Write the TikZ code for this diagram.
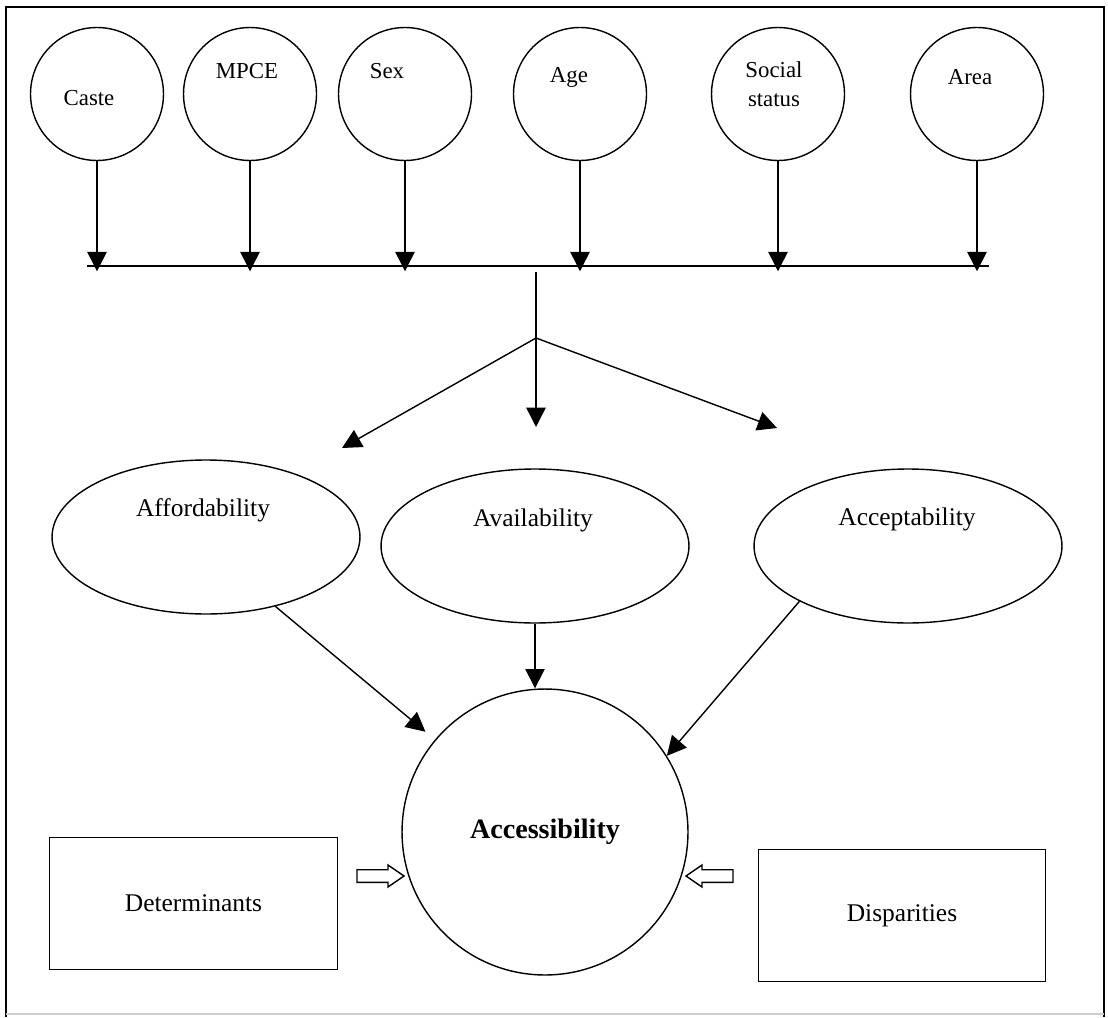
\documentclass[tikz,border=0pt]{standalone}
\usepackage{fontspec}
\setmainfont{Liberation Serif}
\usetikzlibrary{arrows.meta,shapes.geometric,positioning}

\tikzset{
  hollowarrow/.pic={
    \draw (-23.5,-6.3) -- (7.5,-6.3) -- (7.5,-11) -- (23.5,0) -- (7.5,11)
      -- (7.5,6.3) -- (-23.5,6.3) -- cycle;
  }
}

\begin{document}
\begin{tikzpicture}[x=0.02cm,y=-0.02cm,line width=0.8pt,>={Triangle[length=11pt,width=11pt]}]
  \tikzstyle{factor}=[draw,circle,minimum size=2.66cm,inner sep=0pt]
  \tikzstyle{dim}=[draw,ellipse,minimum width=6.16cm,minimum height=3.08cm,inner sep=0pt]
  \tikzstyle{box}=[draw,rectangle,minimum width=5.75cm,minimum height=2.64cm,font=\fontsize{14.5}{17}\selectfont]
  \tikzstyle{small}=[font=\fontsize{13}{16.4}\selectfont,align=center]
  \tikzstyle{big}=[font=\fontsize{14.5}{17}\selectfont]

  \useasboundingbox (0,0) rectangle (1108,1017);

  % frame
  \draw[line width=1.6pt] (6,1017) -- (6,7) -- (1104,7) -- (1104,1017);
  \draw[gray!40] (6,1014) -- (1104,1014);

  % factors
  \node[factor,label={[small,shift={(-8,4)}]center:Caste}]            (caste)  at (97,94)  {};
  \node[factor,label={[small,shift={(-3,-23)}]center:MPCE}]           (mpce)   at (250,94) {};
  \node[factor,label={[small,shift={(-18,-23)}]center:Sex}]           (sex)    at (405,94) {};
  \node[factor,label={[small,shift={(-11,-17)}]center:Age}]           (age)    at (580,94) {};
  \node[factor,label={[small,shift={(-4,-10)}]center:Social\\status}] (social) at (778,94) {};
  \node[factor,label={[small,shift={(-7,-17)}]center:Area}]           (area)   at (977,94) {};

  \coordinate (busL) at (87,266);
  \coordinate (busR) at (989,266);
  \draw (busL) -- (busR);
  \foreach \f in {caste,mpce,sex,age,social,area}
    \draw[->] (\f.south) -- ([yshift=-3pt]\f.south |- busL);

  \coordinate (stem)  at (536,272);
  \coordinate (split) at (536,338);
  \coordinate (tipL)  at (342,448);
  \coordinate (tipC)  at (536,427);
  \coordinate (tipR)  at (777,428);
  \draw (stem) -- (split);
  \draw[->] (split) -- (tipL);
  \draw[->] (split) -- (tipC);
  \draw[->] (split) -- (tipR);

  % dimensions
  \node[dim,label={[big,shift={(-3,-27)}]center:Affordability}] (afford) at (206,537) {};
  \node[dim,label={[big,shift={(-2,-26)}]center:Availability}]  (avail)  at (535,546) {};
  \node[dim,label={[big,shift={(-1,-27)}]center:Acceptability}] (accept) at (908,546) {};

  \node[draw,circle,minimum size=5.72cm,font=\bfseries\fontsize{16}{19}\selectfont] (access) at (545,832) {Accessibility};

  \draw[->,shorten >=7pt] (afford.-45) -- (access.140);
  \draw[->] (avail.south) -- (avail.south |- access.north);
  \draw[->] (accept.207) -- (access.32);

  \node[box] (det) at (193.5,903.5) {Determinants};
  \node[box] (disp) at (902,915.5) {Disparities};

  \pic (detarr) at (380.5,876) {hollowarrow};
  \pic[xscale=-1] (disarr) at (709.5,876) {hollowarrow};
\end{tikzpicture}
\end{document}
